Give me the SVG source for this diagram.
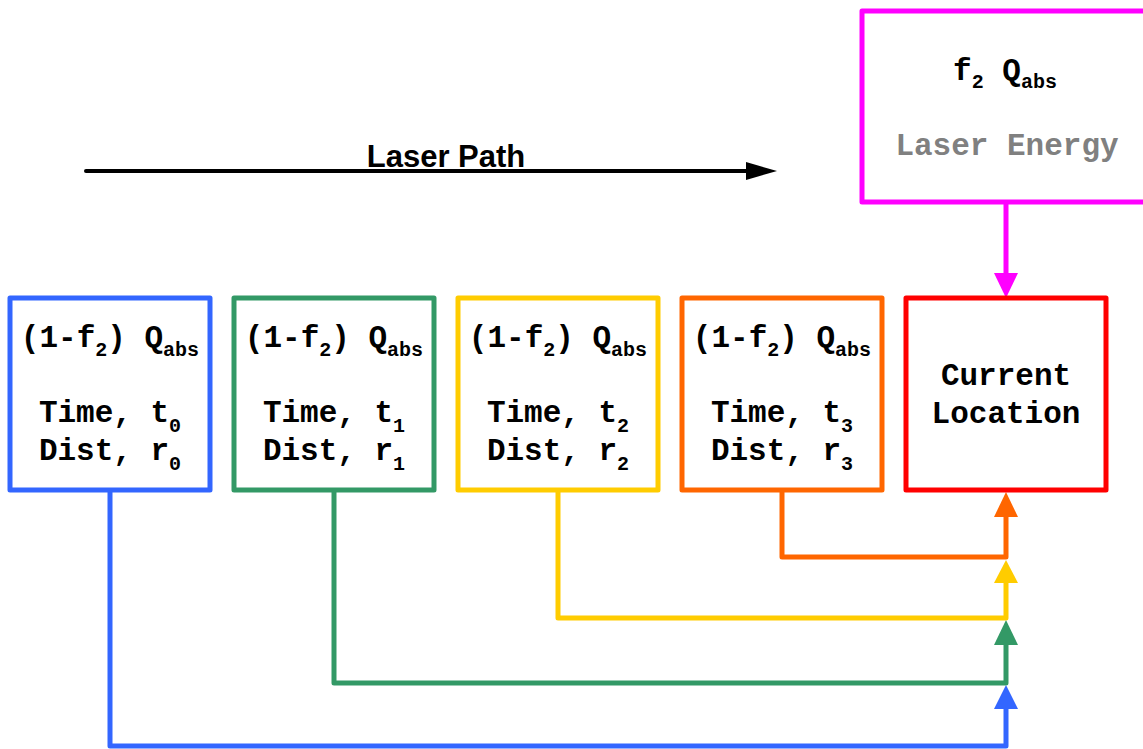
<svg xmlns="http://www.w3.org/2000/svg" width="1143" height="749" viewBox="0 0 1143 749">
<style>
  .box { fill: #ffffff; stroke-width: 5; stroke-linejoin: round; }
  .t { font-family: "Liberation Mono", "Courier New", monospace; font-weight: bold; font-size: 31px; fill: #000; text-anchor: middle; }
  .sub { font-size: 20px; }
  .wire { fill: none; stroke-width: 5; stroke-linejoin: round; stroke-linecap: butt; }
  .blue { stroke: #3366FF; }
  .green { stroke: #339966; }
  .yellow { stroke: #FFCC00; }
  .orange { stroke: #FF6600; }
  .red { stroke: #FF0000; }
  .magenta { stroke: #FF00FF; }
</style>
<rect width="1143" height="749" fill="#ffffff"/>

<g id="connectors">
  <!-- laser path -->
  <line x1="86" y1="171" x2="750" y2="171" stroke="#000" stroke-width="4" stroke-linecap="round"/>
  <polygon points="746,162 777,171 746,180" fill="#000"/>
  <!-- magenta -->
  <line x1="1006" y1="203" x2="1006" y2="275" class="wire magenta"/>
  <polygon points="994,273 1018,273 1006,298" fill="#FF00FF"/>
  <!-- blue -->
  <path d="M110,490 V746 H1006 V707" class="wire blue"/>
  <polygon points="994,709 1018,709 1006,685" fill="#3366FF"/>
  <!-- green -->
  <path d="M334,490 V683 H1006 V643" class="wire green"/>
  <polygon points="994,645 1018,645 1006,620" fill="#339966"/>
  <!-- yellow -->
  <path d="M558,490 V618 H1006 V581" class="wire yellow"/>
  <polygon points="994,583 1018,583 1006,560" fill="#FFCC00"/>
  <!-- orange -->
  <path d="M782,490 V557 H1006 V515" class="wire orange"/>
  <polygon points="994,517 1018,517 1006,492" fill="#FF6600"/>
</g>

<g id="laser-path-label">
  <text x="446" y="167" font-family="Liberation Sans, Arial, sans-serif" font-weight="bold" font-size="31" text-anchor="middle" fill="#000">Laser Path</text>
</g>

<g id="laser-energy">
  <rect x="862" y="11" width="300" height="191" class="box magenta"/>
  <text class="t" x="1005" y="80">f<tspan class="sub" dy="8">2</tspan><tspan dy="-8"> Q</tspan><tspan class="sub" dy="8">abs</tspan></text>
  <text class="t" x="1007" y="155" fill="#808080" style="fill:#808080">Laser Energy</text>
</g>

<g id="step0">
  <rect x="10" y="298" width="200" height="192" class="box blue"/>
  <text class="t" x="110" y="347">(1-f<tspan class="sub" dy="9">2</tspan><tspan dy="-9">) Q</tspan><tspan class="sub" dy="9">abs</tspan></text>
  <text class="t" x="110" y="422">Time, t<tspan class="sub" dy="10">0</tspan></text>
  <text class="t" x="110" y="460">Dist, r<tspan class="sub" dy="10">0</tspan></text>
</g>

<g id="step1">
  <rect x="234" y="298" width="200" height="192" class="box green"/>
  <text class="t" x="334" y="347">(1-f<tspan class="sub" dy="9">2</tspan><tspan dy="-9">) Q</tspan><tspan class="sub" dy="9">abs</tspan></text>
  <text class="t" x="334" y="422">Time, t<tspan class="sub" dy="10">1</tspan></text>
  <text class="t" x="334" y="460">Dist, r<tspan class="sub" dy="10">1</tspan></text>
</g>

<g id="step2">
  <rect x="458" y="298" width="200" height="192" class="box yellow"/>
  <text class="t" x="558" y="347">(1-f<tspan class="sub" dy="9">2</tspan><tspan dy="-9">) Q</tspan><tspan class="sub" dy="9">abs</tspan></text>
  <text class="t" x="558" y="422">Time, t<tspan class="sub" dy="10">2</tspan></text>
  <text class="t" x="558" y="460">Dist, r<tspan class="sub" dy="10">2</tspan></text>
</g>

<g id="step3">
  <rect x="682" y="298" width="200" height="192" class="box orange"/>
  <text class="t" x="782" y="347">(1-f<tspan class="sub" dy="9">2</tspan><tspan dy="-9">) Q</tspan><tspan class="sub" dy="9">abs</tspan></text>
  <text class="t" x="782" y="422">Time, t<tspan class="sub" dy="10">3</tspan></text>
  <text class="t" x="782" y="460">Dist, r<tspan class="sub" dy="10">3</tspan></text>
</g>

<g id="current-location">
  <rect x="906" y="298" width="200" height="192" class="box red"/>
  <text class="t" x="1006" y="385">Current</text>
  <text class="t" x="1006" y="423">Location</text>
</g>
</svg>
